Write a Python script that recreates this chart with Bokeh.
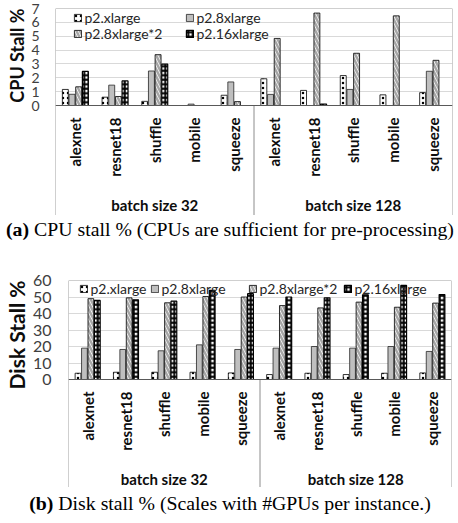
import numpy as np
from bokeh.plotting import figure
from bokeh.models import (ColumnDataSource, FixedTicker, Span, Legend, LegendItem,
                          Div, Range1d, Spacer, Title)
from bokeh.layouts import column
from bokeh.transform import dodge
from bokeh.embed import file_html
from bokeh.resources import INLINE
from bokeh.core.properties import value

# ---------------- data ----------------
models = ["alexnet", "resnet18", "shuffle", "mobile", "squeeze"]
batches = ["batch size 32", "batch size 128"]
series = ["p2.xlarge", "p2.8xlarge", "p2.8xlarge*2", "p2.16xlarge"]

cpu_ticks = [0, 1, 2, 3, 4, 5, 6, 7]
cpu_p2_xlarge = [1.16, 0.60, 0.30, 0.00, 0.74, 1.93, 1.09, 2.16, 0.77, 0.93]
cpu_p2_8xlarge = [0.81, 1.47, 2.49, 0.10, 1.70, 0.80, 0.00, 1.16, 0.00, 2.47]
cpu_p2_8xlarge_x2 = [1.35, 0.65, 3.67, 0.00, 0.28, 4.84, 6.67, 3.77, 6.47, 3.26]
cpu_p2_16xlarge = [2.46, 1.77, 2.98, 0.00, 0.00, 0.00, 0.10, 0.00, 0.00, 0.00]

disk_ticks = [0, 10, 20, 30, 40, 50, 60]
disk_p2_xlarge = [3.8, 4.4, 4.4, 4.4, 4.0, 3.0, 3.8, 3.0, 3.8, 4.0]
disk_p2_8xlarge = [19.0, 18.2, 17.4, 21.0, 18.2, 19.0, 20.0, 19.0, 20.0, 17.0]
disk_p2_8xlarge_x2 = [49.0, 49.5, 46.5, 50.3, 50.0, 44.8, 43.4, 46.9, 43.8, 46.3]
disk_p2_16xlarge = [47.9, 48.3, 47.5, 54.0, 52.0, 50.0, 49.5, 51.3, 57.0, 51.5]

caption_a = "<b>(a)</b> CPU stall % (CPUs are sufficient for pre-processing)"
caption_b = "<b>(b)</b> Disk stall % (Scales with #GPUs per instance.)"

# ---------------- styles ----------------
FONT = "Lato"
W = 458
offsets = [-0.252, -0.084, 0.084, 0.252]
bar_w = 0.15
styles = [
    dict(fill_color="white", hatch_pattern="dot", hatch_color="black", hatch_scale=5,
         hatch_weight=1.2, line_color="black", line_width=0.8),
    dict(fill_color="#bfbfbf", line_color="#262626", line_width=0.8),
    dict(fill_color="white", hatch_pattern="left_diagonal_line", hatch_color="#a6a6a6",
         hatch_scale=7, hatch_weight=2.5, line_color="black", line_width=0.8),
    dict(fill_color="white", hatch_pattern="cross", hatch_color="black", hatch_scale=4.5,
         hatch_weight=2, line_color="black", line_width=1.2),
]


def panel(vals, ymax, ticks, ylabel, px_per_unit, frame_h, cat_h, top, left, right,
          tick_fs, tick_standoff, title_fs, title_off, leg_xy):
    n = len(models) * len(batches)
    ymin = -cat_h / px_per_unit
    src = ColumnDataSource(dict(x=[i + 0.5 for i in range(n)],
                                v0=vals[0], v1=vals[1], v2=vals[2], v3=vals[3]))
    p = figure(width=W, height=top + frame_h + cat_h, x_range=Range1d(0, n),
               y_range=Range1d(ymin, ymax), output_backend="svg", toolbar_location=None,
               x_axis_type=None, min_border_top=top, min_border_left=left,
               min_border_right=right, min_border_bottom=0)
    p.frame_align = False
    p.background_fill_color = "white"
    p.border_fill_color = "white"
    p.outline_line_color = None
    p.xgrid.visible = False
    p.ygrid.ticker = FixedTicker(ticks=ticks[1:-1])
    p.ygrid.grid_line_color = "#d9d9d9"
    ax = p.yaxis[0]
    ax.ticker = FixedTicker(ticks=ticks)
    ax.axis_line_color = None
    ax.major_tick_line_color = None
    ax.minor_tick_line_color = None
    ax.major_tick_out = 0
    ax.major_tick_in = 0
    ax.minor_tick_out = 0
    ax.major_label_text_font = FONT
    ax.major_label_text_font_size = tick_fs
    ax.major_label_text_color = "#404040"
    ax.major_label_standoff = tick_standoff

    t = Title(text=ylabel, align="right", offset=title_off, standoff=2,
              text_font=FONT, text_font_style="bold", text_font_size=title_fs,
              text_color="#0d0d0d")
    p.add_layout(t, "left")

    rs = []
    for k in range(4):
        r = p.vbar(x=dodge("x", offsets[k]), top="v%d" % k, width=bar_w, source=src,
                   **styles[k])
        rs.append(r)

    # frame and category separators
    edge = "#a0a0a0"
    p.add_layout(Span(location=ymax, dimension="width", line_color=edge, line_width=1))
    p.add_layout(Span(location=0, dimension="height", line_color=edge, line_width=1))
    p.add_layout(Span(location=n, dimension="height", line_color=edge, line_width=1))
    p.segment(x0=[n / 2], y0=[ymin], x1=[n / 2], y1=[0], line_color="#8c8c8c", line_width=1)
    p.add_layout(Span(location=0, dimension="width", line_color="#595959", line_width=1))

    # category labels
    p.text(x=[i + 0.5 for i in range(n)], y=-12 / px_per_unit, text=models * len(batches),
           angle=np.pi / 2, text_align="right", text_baseline="middle",
           text_font=value(FONT), text_font_style="bold", text_font_size="15px",
           text_color="#0d0d0d")
    p.text(x=[n / 4, 3 * n / 4], y=-99 / px_per_unit, text=batches, text_align="center",
           text_baseline="middle", text_font=value(FONT), text_font_style="bold",
           text_font_size="15px", text_color="#0d0d0d")

    for k in range(4):
        lg = Legend(items=[LegendItem(label=series[k], renderers=[rs[k]])],
                    location=leg_xy[k], glyph_width=9, glyph_height=9, label_height=16,
                    label_text_font=FONT, label_text_font_size="14px",
                    label_text_color="#262626", label_standoff=3, padding=0, margin=0,
                    spacing=0, border_line_color=None, background_fill_alpha=0)
        lg.level = "underlay"
        p.add_layout(lg)
    return p


def caption(text, h):
    inner = ('<div style="width:460px;text-align:center;'
             'white-space:nowrap;line-height:%dpx;">%s</div>' % (h, text))
    return Div(text=inner, width=W, height=h, margin=0,
               styles={"font-family": "'Liberation Serif', 'Times New Roman', serif",
                       "font-size": "19.8px", "color": "#000"})


# panel (a): frame top at y=8, zero at 105, bottom at 215
pa = panel([cpu_p2_xlarge, cpu_p2_8xlarge, cpu_p2_8xlarge_x2, cpu_p2_16xlarge],
           7, cpu_ticks, "CPU Stall %", 97 / 7, 97, 110, 8, 55, 6,
           "14px", 16, "18px", 0,
           [(17.5, 189.5), (129.5, 189.5), (17.5, 173.5), (129.5, 173.5)])
# panel (b): frame top at 280, zero at 379, bottom at 487
pb = panel([disk_p2_xlarge, disk_p2_8xlarge, disk_p2_8xlarge_x2, disk_p2_16xlarge],
           60, disk_ticks, "Disk Stall %", 99 / 60, 99, 108, 10, 68, 7,
           "16px", 17, "21px", 0,
           [(10.5, 190.5), (81.5, 190.5), (179.5, 190.5), (274.5, 190.5)])

layout = column(pa, caption(caption_a, 28), Spacer(height=27, margin=0), pb,
                caption(caption_b, 32), spacing=0)

open("out.html", "w").write(file_html(layout, INLINE))
